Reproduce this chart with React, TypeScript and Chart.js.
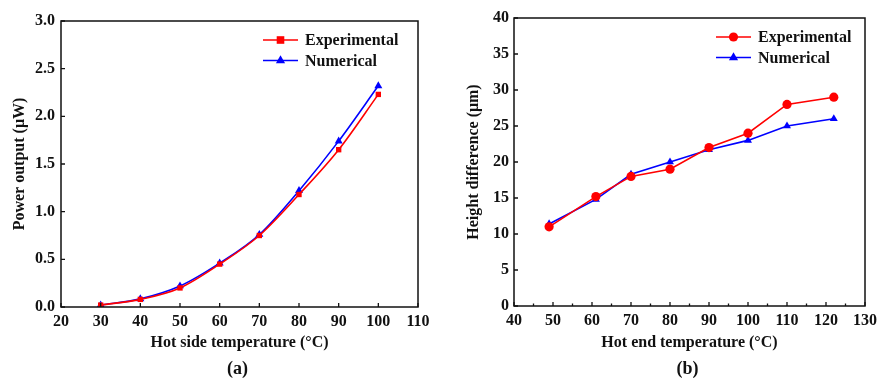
import { useEffect, useRef } from "react";
import { Chart, registerables } from "chart.js";

Chart.register(...registerables);

// Panel (a): power output vs hot side temperature
const tempA = [30, 40, 50, 60, 70, 80, 90, 100];
const expA = [0.02, 0.08, 0.2, 0.45, 0.75, 1.18, 1.65, 2.23];
const numA = [0.02, 0.085, 0.22, 0.46, 0.76, 1.22, 1.74, 2.32];

// Panel (b): height difference vs hot end temperature
const tempB = [49, 61, 70, 80, 90, 100, 110, 122];
const expB = [11, 15.2, 18, 19, 22, 24, 28, 29];
const numB = [11.4, 14.8, 18.3, 20, 21.7, 23, 25, 26];

const seriesNames = ["Experimental", "Numerical"];
const FONT = "'Times New Roman', 'Liberation Serif', serif";

function drawMarker(ctx: CanvasRenderingContext2D, style: string, x: number, y: number, r: number, color: string) {
  ctx.save();
  ctx.fillStyle = color;
  ctx.beginPath();
  if (style === "rect") {
    ctx.rect(x - r, y - r, 2 * r, 2 * r);
  } else if (style === "triangle") {
    ctx.moveTo(x, y - r * 1.15);
    ctx.lineTo(x + r, y + r * 0.6);
    ctx.lineTo(x - r, y + r * 0.6);
    ctx.closePath();
  } else {
    ctx.arc(x, y, r, 0, Math.PI * 2);
  }
  ctx.fill();
  ctx.restore();
}

const decorPlugin = {
  id: "decor",
  afterDraw(chart: any, _args: any, opts: any) {
    const { ctx, chartArea } = chart;
    const { left, right, top, bottom } = chartArea;
    const xs = chart.scales.x;
    const ys = chart.scales.y;
    ctx.save();
    ctx.strokeStyle = "#111";
    ctx.lineWidth = 1.5;
    ctx.strokeRect(left, top, right - left, bottom - top);
    // inward major ticks
    ctx.lineWidth = 1.3;
    ctx.beginPath();
    xs.ticks.forEach((t: any) => {
      const px = xs.getPixelForValue(t.value);
      ctx.moveTo(px, bottom);
      ctx.lineTo(px, bottom - 4);
    });
    ys.ticks.forEach((t: any) => {
      const py = ys.getPixelForValue(t.value);
      ctx.moveTo(left, py);
      ctx.lineTo(left + 4, py);
    });
    if (opts.minorX) {
      for (let v = xs.min + opts.minorX; v < xs.max; v += opts.minorX * 2) {
        const px = xs.getPixelForValue(v);
        ctx.moveTo(px, bottom);
        ctx.lineTo(px, bottom - 2.5);
      }
    }
    ctx.stroke();
    // legend
    ctx.font = `bold 16px ${FONT}`;
    ctx.textBaseline = "middle";
    ctx.textAlign = "left";
    chart.data.datasets.forEach((ds: any, i: number) => {
      const y = top + 19 + i * 20.5;
      const x0 = left + 202;
      const x1 = left + 237;
      ctx.strokeStyle = ds.borderColor;
      ctx.lineWidth = ds.borderWidth;
      ctx.beginPath();
      ctx.moveTo(x0, y);
      ctx.lineTo(x1, y);
      ctx.stroke();
      drawMarker(ctx, ds.pointStyle, (x0 + x1) / 2, y, ds.pointRadius, ds.borderColor);
      ctx.fillStyle = "#111";
      ctx.fillText(ds.label, left + 244, y + 1);
    });
    // panel label
    ctx.font = `bold 18px ${FONT}`;
    ctx.textAlign = "center";
    ctx.fillStyle = "#111";
    ctx.fillText(opts.label, (left + right) / 2 - 2, 369);
    ctx.restore();
  },
};

interface PanelProps {
  xs: number[];
  e: number[];
  n: number[];
  xMin: number;
  xMax: number;
  yMin: number;
  yMax: number;
  yStep: number;
  yDecimals: number;
  xTitle: string;
  yTitle: string;
  label: string;
  expStyle: string;
  smooth: boolean;
  minorX: number;
  padLeft: number;
  padRight: number;
  padTop: number;
  xAxisH: number;
  yTitlePad: number;
  yTickPad: number;
}

function Panel(p: PanelProps) {
  const ref = useRef<HTMLCanvasElement>(null);
  useEffect(() => {
    if (!ref.current) return;
    const tickFont = { family: FONT, size: 16, weight: "bold" as const };
    const chart = new Chart(ref.current, {
      type: "line",
      data: {
        datasets: [
          {
            label: seriesNames[0],
            data: p.xs.map((x, i) => ({ x, y: p.e[i] })),
            borderColor: "#ff0000",
            backgroundColor: "#ff0000",
            borderWidth: 1.6,
            pointStyle: p.expStyle,
            pointRadius: p.expStyle === "rect" ? 3.8 : 4.6,
            pointBorderWidth: 0,
            cubicInterpolationMode: p.smooth ? "monotone" : "default",
            tension: 0,
          },
          {
            label: seriesNames[1],
            data: p.xs.map((x, i) => ({ x, y: p.n[i] })),
            borderColor: "#0000ff",
            backgroundColor: "#0000ff",
            borderWidth: 1.6,
            pointStyle: "triangle",
            pointRadius: 4.6,
            pointBorderWidth: 0,
            cubicInterpolationMode: p.smooth ? "monotone" : "default",
            tension: 0,
          },
        ],
      } as any,
      options: {
        animation: false,
        responsive: false,
        devicePixelRatio: 1,
        layout: { padding: { left: p.padLeft, right: p.padRight, top: p.padTop, bottom: 0 } },
        plugins: {
          legend: { display: false },
          tooltip: { enabled: false },
          decor: { label: p.label, minorX: p.minorX },
        } as any,
        scales: {
          x: {
            type: "linear",
            min: p.xMin,
            max: p.xMax,
            grid: { display: false, drawTicks: false },
            border: { display: false },
            ticks: {
              stepSize: 10,
              autoSkip: false,
              maxRotation: 0,
              padding: 5,
              color: "#111",
              font: tickFont,
            },
            title: {
              display: true,
              text: p.xTitle,
              color: "#111",
              font: tickFont,
              padding: { top: 0, bottom: 26 },
            },
            afterFit: (s: any) => {
              s.height = p.xAxisH;
            },
          },
          y: {
            type: "linear",
            min: p.yMin,
            max: p.yMax,
            grid: { display: false, drawTicks: false },
            border: { display: false },
            ticks: {
              stepSize: p.yStep,
              autoSkip: false,
              padding: p.yTickPad,
              color: "#111",
              font: tickFont,
              callback: (v: any) => Number(v).toFixed(p.yDecimals),
            },
            title: {
              display: true,
              text: p.yTitle,
              color: "#111",
              font: tickFont,
              padding: { top: p.yTitlePad, bottom: 0 },
            },
            afterFit: (s: any) => {
              s.width = p.padLeft === 0 ? 0 : 0;
              s.width = (p as any).yAxisW;
            },
          },
        } as any,
      },
      plugins: [decorPlugin],
    });
    return () => chart.destroy();
  }, []);
  return <canvas ref={ref} width={441} height={378} style={{ display: "block" }} />;
}

export default function App() {
  return (
    <div style={{ position: "fixed", left: 0, top: 0, width: 882, height: 378, background: "#fff", display: "flex" }}>
      <Panel
        {...({ yAxisW: 61 } as any)}
        xs={tempA}
        e={expA}
        n={numA}
        xMin={20}
        xMax={110}
        yMin={0}
        yMax={3}
        yStep={0.5}
        yDecimals={1}
        xTitle="Hot side temperature (°C)"
        yTitle="Power output (μW)"
        label="(a)"
        expStyle="rect"
        smooth={true}
        minorX={0}
        padLeft={0}
        padRight={23}
        padTop={21}
        xAxisH={71}
        yTitlePad={10}
        yTickPad={6}
      />
      <Panel
        {...({ yAxisW: 73 } as any)}
        xs={tempB}
        e={expB}
        n={numB}
        xMin={40}
        xMax={130}
        yMin={0}
        yMax={40}
        yStep={5}
        yDecimals={0}
        xTitle="Hot end temperature (°C)"
        yTitle="Height difference (μm)"
        label="(b)"
        expStyle="circle"
        smooth={false}
        minorX={5}
        padLeft={0}
        padRight={12}
        padTop={18}
        xAxisH={72}
        yTitlePad={23}
        yTickPad={5}
      />
    </div>
  );
}
